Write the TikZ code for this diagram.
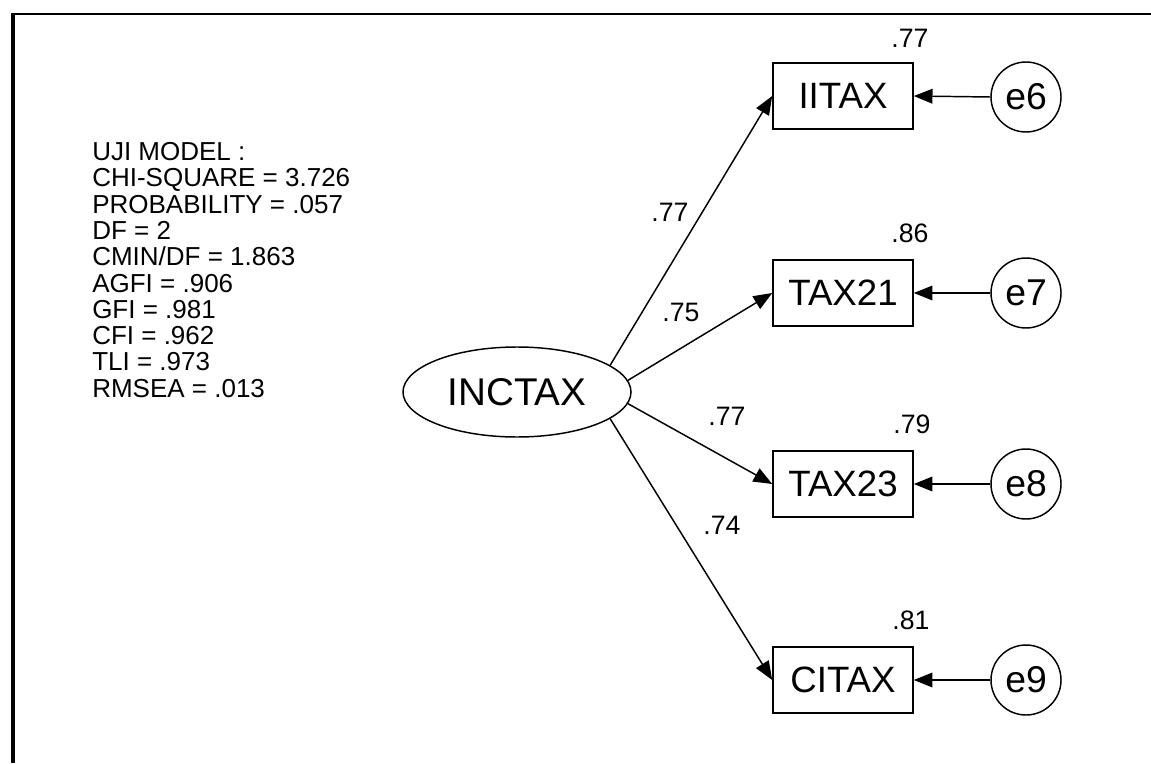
\documentclass[tikz,border=0pt]{standalone}
\usepackage{fontspec}
\setmainfont{Liberation Sans}
\usetikzlibrary{arrows.meta,shapes.geometric}
\begin{document}
\begin{tikzpicture}[x=0.75pt,y=-0.75pt,
  obs/.style={draw,line width=1.2pt,minimum width=105pt,minimum height=49.5pt,inner sep=0pt,font=\fontsize{27.5}{30}\selectfont},
  err/.style={draw,circle,line width=1.1pt,minimum size=52.5pt,inner sep=0pt,font=\fontsize{28}{30}\selectfont},
  lat/.style={draw,ellipse,line width=1.1pt,minimum width=171pt,minimum height=67.5pt,inner sep=0pt,font=\fontsize{29}{30}\selectfont},
  lbl/.style={font=\fontsize{20}{22}\selectfont,inner sep=0pt},
  fitline/.style={font=\fontsize{19.5}{20}\selectfont,inner sep=0pt,anchor=base west},
  pathline/.style={line width=1.1pt,-{Triangle[length=14pt,width=11pt]}}
]
\useasboundingbox (0,0) rectangle (1151,763);
\fill[white] (0,0) rectangle (1151,763);
\draw[line width=1.5pt] (12,14) -- (1151,14);
\draw[line width=2.5pt] (13,13) -- (13,763);
\foreach \t [count=\i from 0] in {UJI MODEL :,CHI-SQUARE = 3.726,PROBABILITY = .057,DF = 2,CMIN/DF = 1.863,AGFI = .906,GFI = .981,CFI = .962,TLI = .973,RMSEA = .013}
  \node[fitline] (fit\i) at (92,160.5+26.3*\i) {\t};
\node[lat] (inc) at (517,392) {INCTAX};
\node[obs] (b1) at (843,96) {IITAX};
\node[obs] (b2) at (843,293) {TAX21};
\node[obs] (b3) at (843,484) {TAX23};
\node[obs] (b4) at (843,680) {CITAX};
\node[err] (e6) at (1026,97) {e6};
\node[err] (e7) at (1026,293) {e7};
\node[err] (e8) at (1026,484) {e8};
\node[err] (e9) at (1026,680) {e9};
\draw[pathline] (e6.west) -- (b1.east);
\draw[pathline] (e7.west) -- (b2.east);
\draw[pathline] (e8.west) -- (b3.east);
\draw[pathline] (e9.west) -- (b4.east);
\draw[pathline] (inc.16) -- (b1.west);
\draw[pathline] (inc.6) -- (b2.west);
\draw[pathline] (inc.-6) -- (b3.west);
\draw[pathline] (inc.-16) -- (b4.west);
\node[lbl] (r1) at (670,212) {.77};
\node[lbl] (r2) at (681,312) {.75};
\node[lbl] (r3) at (727,416) {.77};
\node[lbl] (r4) at (722,525) {.74};
\node[lbl] (s1) at (910,38) {.77};
\node[lbl] (s2) at (910,233) {.86};
\node[lbl] (s3) at (912,424) {.79};
\node[lbl] (s4) at (911,620) {.81};
\end{tikzpicture}
\end{document}
